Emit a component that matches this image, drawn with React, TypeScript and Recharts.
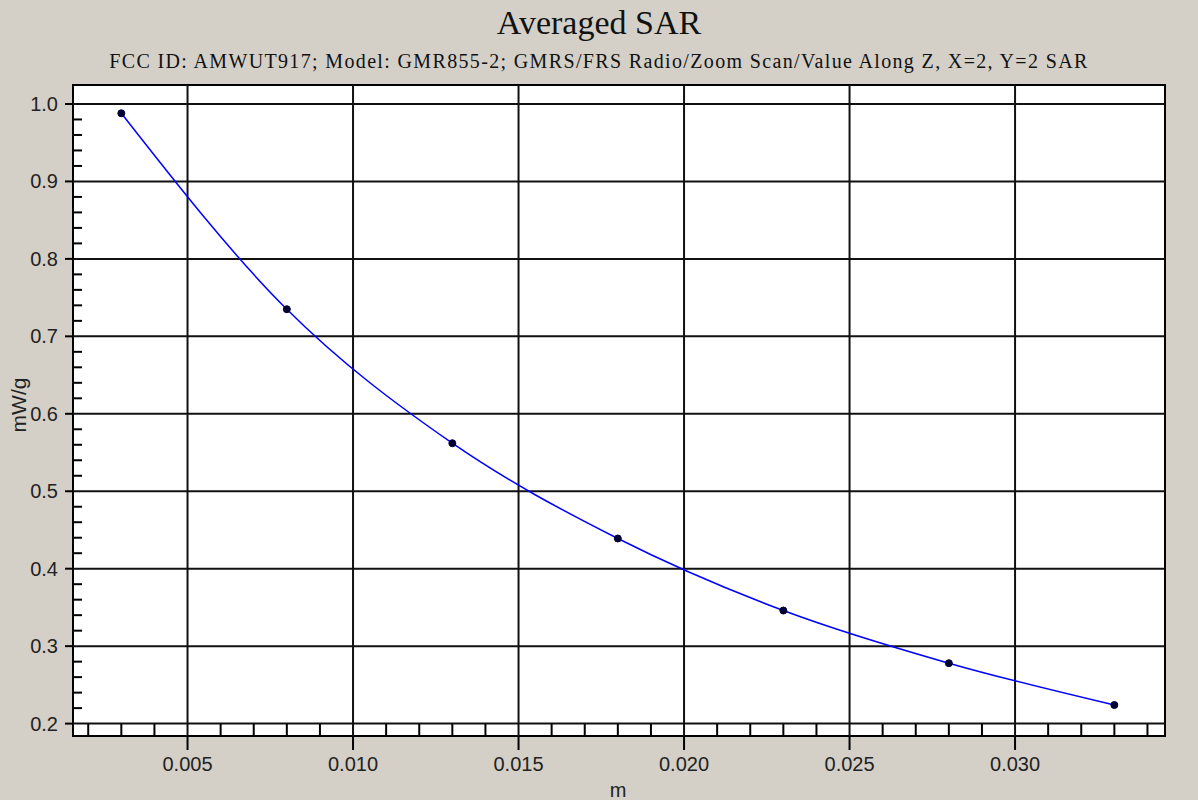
import { LineChart, Line, XAxis, YAxis, ReferenceLine, ReferenceArea } from 'recharts';

const depth = [0.003, 0.008, 0.013, 0.018, 0.023, 0.028, 0.033];
const sar = [0.988, 0.735, 0.562, 0.439, 0.346, 0.278, 0.224];

const xMajor = [0.005, 0.01, 0.015, 0.02, 0.025, 0.03];
const xTicks = [
  0.002, 0.003, 0.004, 0.005, 0.006, 0.007, 0.008, 0.009, 0.01, 0.011, 0.012,
  0.013, 0.014, 0.015, 0.016, 0.017, 0.018, 0.019, 0.02, 0.021, 0.022, 0.023,
  0.024, 0.025, 0.026, 0.027, 0.028, 0.029, 0.03, 0.031, 0.032, 0.033, 0.034,
];
const yMajor = [0.2, 0.3, 0.4, 0.5, 0.6, 0.7, 0.8, 0.9, 1.0];
const yTicks = [
  0.2, 0.22, 0.24, 0.26, 0.28, 0.3, 0.32, 0.34, 0.36, 0.38, 0.4, 0.42, 0.44,
  0.46, 0.48, 0.5, 0.52, 0.54, 0.56, 0.58, 0.6, 0.62, 0.64, 0.66, 0.68, 0.7,
  0.72, 0.74, 0.76, 0.78, 0.8, 0.82, 0.84, 0.86, 0.88, 0.9, 0.92, 0.94, 0.96,
  0.98, 1.0,
];

const xDomain: [number, number] = [0.00154, 0.03453];
const yDomain: [number, number] = [0.184, 1.0245];

const data = depth.map((d, i) => ({ m: d, sar: sar[i] }));

const isMajor = (v: number, majors: number[]) => majors.some((t) => Math.abs(t - v) < 1e-9);
const font = '"Liberation Sans", Arial, sans-serif';
const serif = '"Liberation Serif", "Times New Roman", serif';

function XTick(props: any) {
  const { x, y, payload } = props;
  const v = payload.value;
  if (isMajor(v, xMajor)) {
    return (
      <g>
        <line x1={x} x2={x} y1={y} y2={y + 14} stroke="#000" strokeWidth={2} />
        <text x={x} y={y + 35} textAnchor="middle" fontFamily={font} fontSize={20} fill="#222">
          {v.toFixed(3)}
        </text>
      </g>
    );
  }
  return <line x1={x} x2={x} y1={y} y2={y - 12} stroke="#000" strokeWidth={2} />;
}

function YTick(props: any) {
  const { x, y, payload } = props;
  const v = payload.value;
  if (isMajor(v, yMajor)) {
    return (
      <g>
        <line x1={x - 8} x2={x} y1={y} y2={y} stroke="#000" strokeWidth={2} />
        <text x={x - 15} y={y + 7} textAnchor="end" fontFamily={font} fontSize={20} fill="#222">
          {v.toFixed(1)}
        </text>
      </g>
    );
  }
  return <line x1={x} x2={x + 9} y1={y} y2={y} stroke="#000" strokeWidth={2} />;
}

export default function App() {
  return (
    <div style={{ position: 'absolute', left: 0, top: 0, width: 1198, height: 800, background: '#d4d0c8' }}>
      <div
        style={{
          position: 'absolute', left: 0, width: 1198, top: 6, textAlign: 'center', lineHeight: 1,
          fontFamily: serif, fontSize: 34, color: '#111',
        }}
      >
        Averaged SAR
      </div>
      <div
        style={{
          position: 'absolute', left: 0, width: 1198, top: 51, textAlign: 'center', lineHeight: 1,
          fontFamily: serif, fontSize: 20, letterSpacing: 1.35, color: '#111',
        }}
      >
        FCC ID: AMWUT917; Model: GMR855-2; GMRS/FRS Radio/Zoom Scan/Value Along Z, X=2, Y=2 SAR
      </div>
      <div
        style={{
          position: 'absolute', left: 18, top: 405, transform: 'translate(-50%, -50%) rotate(-90deg)',
          fontFamily: font, fontSize: 21, lineHeight: 1, color: '#222', whiteSpace: 'nowrap',
        }}
      >
        mW/g
      </div>
      <div
        style={{
          position: 'absolute', left: 618, top: 790, transform: 'translate(-50%, -50%)',
          fontFamily: font, fontSize: 20, lineHeight: 1, color: '#222',
        }}
      >
        m
      </div>
      <div style={{ position: 'absolute', left: 0, top: 0 }}>
        <LineChart width={1198} height={800} data={data} margin={{ top: 85, right: 33, left: 0, bottom: 0 }}>
          <XAxis
            dataKey="m"
            type="number"
            domain={xDomain}
            ticks={xTicks}
            interval={0}
            height={64}
            axisLine={false}
            tickLine={false}
            tickSize={0}
            tickMargin={0}
            tick={<XTick />}
            allowDataOverflow
          />
          <YAxis
            type="number"
            domain={yDomain}
            ticks={yTicks}
            interval={0}
            width={73}
            axisLine={false}
            tickLine={false}
            tickSize={0}
            tickMargin={0}
            tick={<YTick />}
            allowDataOverflow
          />
          <ReferenceArea
            x1={xDomain[0]}
            x2={xDomain[1]}
            y1={yDomain[0]}
            y2={yDomain[1]}
            fill="#fff"
            fillOpacity={1}
            stroke="#000"
            strokeWidth={2}
          />
          {xMajor.map((v) => (
            <ReferenceLine key={'x' + v} x={v} stroke="#111" strokeWidth={2} />
          ))}
          {yMajor.map((v) => (
            <ReferenceLine key={'y' + v} y={v} stroke="#111" strokeWidth={2} />
          ))}
          <Line
            type="monotone"
            dataKey="sar"
            stroke="#0000ff"
            strokeWidth={1.5}
            dot={{ r: 3.5, fill: '#000033', stroke: '#000033', strokeWidth: 1 }}
            isAnimationActive={false}
          />
        </LineChart>
      </div>
    </div>
  );
}
